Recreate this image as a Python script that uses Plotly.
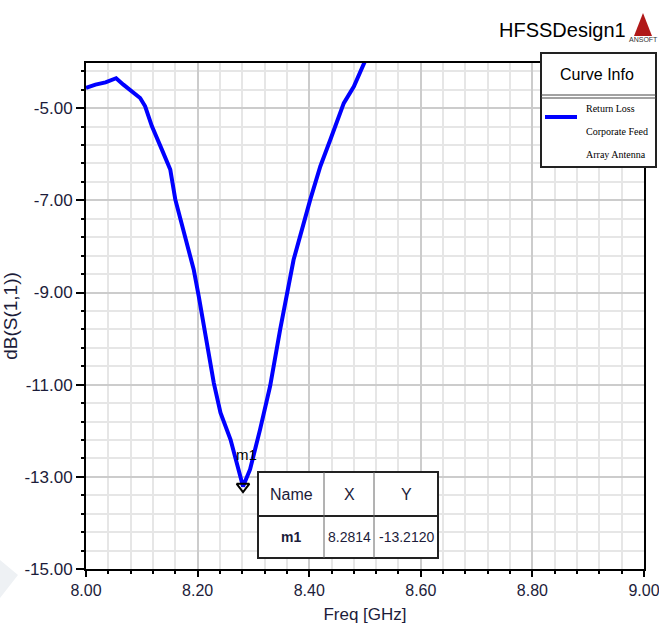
import plotly.graph_objects as go

# ---- data ----
freq = [8.000, 8.017, 8.035, 8.054, 8.067, 8.079, 8.097, 8.106, 8.118, 8.136,
        8.151, 8.160, 8.175, 8.193, 8.202, 8.214, 8.229, 8.241, 8.259, 8.2814,
        8.294, 8.312, 8.330, 8.348, 8.372, 8.402, 8.420, 8.438, 8.462, 8.480, 8.500]
s11_db = [-4.56, -4.49, -4.44, -4.35, -4.49, -4.60, -4.78, -4.96, -5.39, -5.90,
          -6.33, -6.98, -7.64, -8.50, -9.08, -9.87, -10.96, -11.61, -12.19, -13.212,
          -12.84, -11.97, -11.03, -9.80, -8.29, -6.98, -6.26, -5.68, -4.89, -4.53, -3.98]
marker_name = "m1"
marker_x = 8.2814
marker_y = -13.2120
x_ticks = [8.0, 8.2, 8.4, 8.6, 8.8, 9.0]
y_ticks = [-15, -13, -11, -9, -7, -5]
legend_lines = ["Return Loss", "Corporate Feed", "Array Antenna"]

W, H = 659, 628
ML, MR, MT, MB = 86, 15, 63, 59
PW, PH = W - ML - MR, H - MT - MB

def px(x):
    return (x - ML) / PW

def py(y):
    return (H - MB - y) / PH

NARROW = "Liberation Sans Narrow, Arial Narrow, Liberation Sans, Arial, sans-serif"
TXT = "#1c1c3a"

fig = go.Figure()
fig.add_trace(go.Scatter(x=freq, y=s11_db, mode="lines",
                         line=dict(color="#0000ff", width=4), showlegend=False,
                         hoverinfo="skip"))
fig.add_trace(go.Scatter(x=[marker_x], y=[marker_y], mode="markers",
                         marker=dict(symbol="triangle-down-open", size=11,
                                     color="black", line=dict(width=2, color="black")),
                         showlegend=False, hoverinfo="skip"))

shapes = []
annotations = []

def label(xp, yp, text, size, color="black", family=NARROW, xanchor="center"):
    annotations.append(dict(x=px(xp), y=py(yp), xref="paper", yref="paper", text=text,
                            showarrow=False, xanchor=xanchor, yanchor="middle",
                            font=dict(family=family, size=size, color=color)))

# marker label
annotations.append(dict(x=marker_x, y=marker_y, xref="x", yref="y", text=marker_name,
                        showarrow=False, yshift=32, xshift=3, xanchor="center", yanchor="middle",
                        font=dict(family=NARROW, size=15, color="black")))

# title and logo
label(562, 30, "HFSSDesign1", 20)
shapes.append(dict(type="path", xref="paper", yref="paper",
                   path=f"M {px(643)},{py(13)} L {px(634)},{py(36)} L {px(652)},{py(36)} Z",
                   fillcolor="#b01818", line=dict(width=0)))
label(643, 39, "ANSOFT", 7, color="#333")

# legend box (Curve Info)
lx0, lx1, ly0, ly1 = 541, 656, 53, 167
shapes.append(dict(type="rect", xref="paper", yref="paper",
                   x0=px(lx0), x1=px(lx1), y0=py(ly1), y1=py(ly0),
                   fillcolor="white", line=dict(color="#222", width=2)))
shapes.append(dict(type="line", xref="paper", yref="paper",
                   x0=px(lx0), x1=px(lx1), y0=py(95), y1=py(95),
                   line=dict(color="#444", width=1)))
shapes.append(dict(type="line", xref="paper", yref="paper",
                   x0=px(lx0), x1=px(lx1), y0=py(98), y1=py(98),
                   line=dict(color="#444", width=1)))
shapes.append(dict(type="line", xref="paper", yref="paper",
                   x0=px(545), x1=px(577), y0=py(117), y1=py(117),
                   line=dict(color="#0000ff", width=4)))
label(597, 75, "Curve Info", 16)
for i, t in enumerate(legend_lines):
    label(584, 108 + 23 * i, t, 10, family="Liberation Serif, Times New Roman, serif",
          xanchor="left")

# marker table
tx0, tx1, ty0, ty1 = 258, 438, 472, 558
cols = [258, 324, 374, 438]
shapes.append(dict(type="rect", xref="paper", yref="paper",
                   x0=px(tx0), x1=px(tx1), y0=py(ty1), y1=py(ty0),
                   fillcolor="white", line=dict(color="#222", width=2)))
shapes.append(dict(type="line", xref="paper", yref="paper",
                   x0=px(tx0), x1=px(tx1), y0=py(516), y1=py(516),
                   line=dict(color="#222", width=2)))
for c in cols[1:3]:
    shapes.append(dict(type="line", xref="paper", yref="paper",
                       x0=px(c), x1=px(c), y0=py(ty1), y1=py(ty0),
                       line=dict(color="#666", width=1)))
header = ["Name", "X", "Y"]
row = [f"<b>{marker_name}</b>", f"{marker_x:.4f}", f"{marker_y:.4f}"]
for i in range(3):
    cx = (cols[i] + cols[i + 1]) / 2
    label(cx, 494, header[i], 16, color=TXT)
    label(cx, 537, row[i], 14, color=TXT)

# faint watermark
shapes.append(dict(type="path", xref="paper", yref="paper",
                   path=f"M {px(0)},{py(560)} L {px(18)},{py(575)} L {px(0)},{py(598)} Z",
                   fillcolor="#eef1f4", line=dict(width=0), layer="below"))

fig.update_layout(
    width=W, height=H, autosize=False,
    margin=dict(l=ML, r=MR, t=MT, b=MB, pad=0),
    paper_bgcolor="white", plot_bgcolor="white",
    shapes=shapes, annotations=annotations,
    showlegend=False,
)
fig.update_xaxes(
    range=[8.0, 9.0], tickvals=x_ticks, ticktext=[f"{v:.2f}" for v in x_ticks],
    ticks="outside", ticklen=6, tickwidth=2, tickcolor="black",
    showline=True, linecolor="black", linewidth=2, mirror=True,
    showgrid=True, gridcolor="#cccccc", gridwidth=2, zeroline=False,
    minor=dict(dtick=0.04, tick0=8.0, ticks="outside", ticklen=3, tickwidth=2,
               tickcolor="black", showgrid=True, gridcolor="#e6e6e6", gridwidth=2),
    tickfont=dict(family=NARROW, size=16, color=TXT),
    ticklabeloverflow="allow",
    automargin=False,
    title=dict(text="Freq [GHz]", font=dict(family=NARROW, size=17, color=TXT), standoff=10),
)
fig.update_yaxes(
    range=[-15, -4.02], tickvals=y_ticks, ticktext=[f"{v:.2f}" for v in y_ticks],
    ticks="outside", ticklen=8, tickwidth=2, tickcolor="black",
    showline=True, linecolor="black", linewidth=2, mirror=True,
    showgrid=True, gridcolor="#cccccc", gridwidth=2, zeroline=False,
    minor=dict(dtick=0.4, tick0=-15, ticks="outside", ticklen=3, tickwidth=2,
               tickcolor="black", showgrid=True, gridcolor="#e6e6e6", gridwidth=2),
    tickfont=dict(family=NARROW, size=17, color=TXT),
    automargin=False,
    title=dict(text="dB(S(1,1))", font=dict(family=NARROW, size=19, color=TXT), standoff=3),
)

fig.write_html("out.html", config={"displayModeBar": False},
               post_script="document.body.style.margin='0';")
